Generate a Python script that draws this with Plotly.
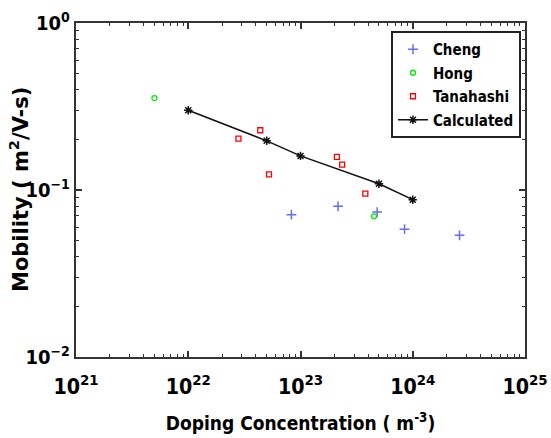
import plotly.graph_objects as go

cheng_x = [8.3e22, 2.16e23, 4.82e23, 8.45e23, 2.61e24]
cheng_y = [0.0712, 0.0798, 0.0738, 0.0583, 0.0535]
hong_x = [5.0e21, 4.52e23]
hong_y = [0.355, 0.0696]
tana_x = [2.8e22, 4.38e22, 5.24e22, 2.11e23, 2.35e23, 3.78e23]
tana_y = [0.203, 0.228, 0.124, 0.158, 0.142, 0.095]
calc_x = [1e22, 5e22, 1e23, 5e23, 1e24]
calc_y = [0.300, 0.197, 0.160, 0.109, 0.0875]

COND = "DejaVu Sans Condensed, DejaVu Sans, sans-serif"

fig = go.Figure()
fig.add_trace(go.Scatter(x=cheng_x, y=cheng_y, mode="markers", name="Cheng", legendgroup="a",
                         marker=dict(symbol="cross-thin-open", size=7, line=dict(color="#0000ff", width=1.5))))
fig.add_trace(go.Scatter(x=hong_x, y=hong_y, mode="markers", name="Hong", legendgroup="b",
                         marker=dict(symbol="circle-open", size=5, color="#00ee00", line=dict(color="#00ee00", width=1.3))))
fig.add_trace(go.Scatter(x=tana_x, y=tana_y, mode="markers", name="Tanahashi", legendgroup="c",
                         marker=dict(symbol="square-open", size=5, color="#ff0000", line=dict(color="#ff0000", width=1.3))))
fig.add_trace(go.Scatter(x=calc_x, y=calc_y, mode="lines+markers", name="Calculated", legendgroup="d",
                         line=dict(color="#111111", width=1.5),
                         marker=dict(symbol="asterisk-open", size=7, color="#111111", line=dict(color="#111111", width=1.5))))

axis_common = dict(
    type="log", showgrid=False, zeroline=False, automargin=False,
    showline=True, linecolor="#333333", linewidth=2, mirror="allticks",
    ticks="inside", ticklen=6, tickwidth=1.5, tickcolor="#333333",
    tickmode="linear", tick0=0, dtick=1, exponentformat="power", showexponent="all",
    minor=dict(ticks="inside", ticklen=3, tickwidth=1, tickcolor="#333333", showgrid=False, dtick="D1"),
    ticklabeloverflow="allow",
)

fig.update_xaxes(**axis_common, range=[20.99999, 25.00001], ticklabelstandoff=10,
                 tickfont=dict(family=COND, size=17, color="#000000", weight="bold"),
                 title=dict(text="Doping Concentration ( m<sup>-3</sup>)",
                            font=dict(family=COND, size=19, color="#000000", weight="bold"), standoff=19))
fig.update_yaxes(**axis_common, range=[-2.00001, 0.00001], ticklabelstandoff=1,
                 tickfont=dict(family=COND, size=16, color="#000000", weight="bold"),
                 labelalias={"1": "10<sup>0</sup>"})

fig.add_annotation(text="Mobility ( m<sup>2</sup>/V-s)", xref="paper", yref="paper",
                   x=0, y=0.5, xanchor="center", yanchor="middle", xshift=-57,
                   textangle=-90, showarrow=False,
                   font=dict(family="DejaVu Sans, sans-serif", size=21, color="#000000", weight="bold"))

fig.update_layout(
    width=551, height=438,
    margin=dict(l=76, r=26, t=23, b=81),
    paper_bgcolor="white", plot_bgcolor="white",
    font=dict(family=COND, color="#000000"),
    showlegend=True,
    legend=dict(x=0.991, y=0.976, xanchor="right", yanchor="top",
                bordercolor="#222222", borderwidth=2, bgcolor="white",
                font=dict(family=COND, size=15, color="#000000", weight="bold"),
                itemwidth=30, tracegroupgap=1),
)

fig.write_html("out.html")
